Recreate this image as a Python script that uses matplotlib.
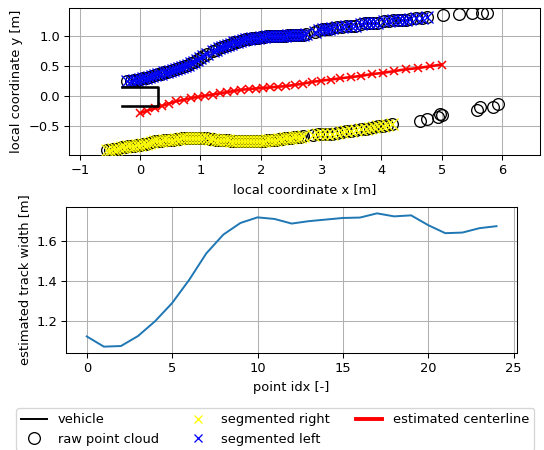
import numpy as np
import matplotlib
matplotlib.use('Agg')
import matplotlib.pyplot as plt
from matplotlib.lines import Line2D

# vehicle outline
veh_x = [-0.30, 0.29, 0.29, -0.30]
veh_y = [0.16, 0.16, -0.16, -0.16]

# segmented left boundary
left_x = [-0.22, -0.15, -0.10, -0.05, 0.00, 0.05, 0.10, 0.15, 0.20, 0.25, 0.30, 0.35,
          0.40, 0.45, 0.50, 0.55, 0.60, 0.65, 0.70, 0.75, 0.80, 0.85, 0.90, 0.95,
          1.00, 1.05, 1.10, 1.20, 1.25, 1.30, 1.35, 1.40, 1.45, 1.50, 1.55, 1.60,
          1.65, 1.70, 1.75, 1.80, 1.85, 1.90, 1.95, 2.00, 2.05, 2.10, 2.15, 2.20,
          2.25, 2.30, 2.35, 2.40, 2.45, 2.50, 2.55, 2.60, 2.65, 2.70, 2.75, 2.90,
          2.97, 3.03, 3.08, 3.13, 3.18, 3.27, 3.35, 3.42, 3.50, 3.57, 3.67, 3.73,
          3.80, 3.86, 3.92, 4.05, 4.12, 4.20, 4.27, 4.34, 4.41, 4.48, 4.57, 4.67,
          4.76]
left_y = [0.25, 0.26, 0.27, 0.28, 0.29, 0.30, 0.31, 0.32, 0.34, 0.35, 0.37, 0.38,
          0.40, 0.41, 0.43, 0.44, 0.46, 0.47, 0.49, 0.51, 0.53, 0.55, 0.58, 0.61,
          0.64, 0.67, 0.70, 0.75, 0.78, 0.80, 0.82, 0.84, 0.86, 0.88, 0.90, 0.91,
          0.93, 0.94, 0.95, 0.96, 0.97, 0.98, 0.98, 0.99, 0.99, 1.00, 1.00, 1.00,
          1.01, 1.01, 1.01, 1.01, 1.02, 1.02, 1.02, 1.02, 1.03, 1.03, 1.04, 1.08,
          1.11, 1.12, 1.13, 1.13, 1.14, 1.15, 1.16, 1.17, 1.18, 1.18, 1.21, 1.22,
          1.22, 1.23, 1.23, 1.25, 1.26, 1.27, 1.27, 1.28, 1.28, 1.29, 1.30, 1.31,
          1.32]

# segmented right boundary
right_x = [-0.55, -0.50, -0.45, -0.40, -0.35, -0.30, -0.25, -0.20, -0.15, -0.10,
           -0.05, 0.00, 0.05, 0.10, 0.15, 0.20, 0.25, 0.30, 0.35, 0.40, 0.45, 0.50,
           0.55, 0.60, 0.65, 0.70, 0.75, 0.80, 0.85, 0.90, 0.95, 1.00, 1.05, 1.10,
           1.15, 1.20, 1.25, 1.30, 1.35, 1.40, 1.45, 1.50, 1.55, 1.60, 1.65, 1.70,
           1.75, 1.80, 1.85, 1.90, 1.95, 2.00, 2.05, 2.10, 2.15, 2.20, 2.25, 2.30,
           2.35, 2.40, 2.45, 2.50, 2.55, 2.60, 2.65, 2.70, 2.87, 2.95, 3.02, 3.10,
           3.18, 3.26, 3.34, 3.42, 3.50, 3.58, 3.66, 3.74, 3.81, 3.88, 3.95, 4.02,
           4.10, 4.17]
right_y = [-0.90, -0.89, -0.88, -0.87, -0.86, -0.85, -0.84, -0.83, -0.82, -0.82,
           -0.81, -0.81, -0.80, -0.79, -0.77, -0.76, -0.75, -0.74, -0.74, -0.73,
           -0.73, -0.72, -0.72, -0.71, -0.71, -0.70, -0.70, -0.70, -0.70, -0.70,
           -0.70, -0.70, -0.70, -0.70, -0.71, -0.71, -0.72, -0.72, -0.73, -0.73,
           -0.73, -0.74, -0.74, -0.74, -0.74, -0.74, -0.74, -0.74, -0.74, -0.74,
           -0.74, -0.74, -0.74, -0.73, -0.73, -0.72, -0.72, -0.71, -0.71, -0.70,
           -0.70, -0.69, -0.68, -0.67, -0.67, -0.66, -0.64, -0.63, -0.63, -0.62,
           -0.62, -0.61, -0.59, -0.58, -0.57, -0.56, -0.55, -0.54, -0.52, -0.51,
           -0.50, -0.49, -0.48, -0.46]

# raw points that were not segmented
extra_x = [5.02, 5.28, 5.50, 5.67, 5.75, 4.64, 4.75, 4.94, 4.98, 5.00, 5.58, 5.64, 5.85, 5.93]
extra_y = [1.36, 1.37, 1.39, 1.39, 1.39, -0.41, -0.38, -0.34, -0.30, -0.31, -0.22, -0.18, -0.18, -0.13]

# estimated centerline
center_x = [0.00, 0.12, 0.24, 0.36, 0.48, 0.60, 0.72, 0.84, 0.96, 1.08, 1.20, 1.32,
            1.44, 1.56, 1.68, 1.80, 1.92, 2.04, 2.16, 2.29, 2.42, 2.56, 2.70, 2.85,
            3.00, 3.16, 3.32, 3.49, 3.66, 3.84, 4.02, 4.21, 4.40, 4.60, 4.80, 5.00]
center_y = [-0.28, -0.24, -0.20, -0.16, -0.12, -0.08, -0.06, -0.03, -0.01, 0.01,
            0.03, 0.05, 0.07, 0.09, 0.11, 0.12, 0.13, 0.14, 0.15, 0.16, 0.17, 0.19,
            0.21, 0.24, 0.26, 0.28, 0.30, 0.32, 0.34, 0.37, 0.39, 0.42, 0.45, 0.47,
            0.50, 0.53]

# track width per centerline point
point_idx = list(range(25))
track_width = [1.122, 1.071, 1.074, 1.124, 1.198, 1.289, 1.405, 1.537, 1.631, 1.689,
               1.717, 1.709, 1.686, 1.698, 1.706, 1.714, 1.716, 1.737, 1.722, 1.727,
               1.678, 1.638, 1.641, 1.663, 1.673]

DPI = 93.75
fig = plt.figure(figsize=(544/DPI, 450/DPI), dpi=DPI)
ax1 = fig.add_axes([69/544, 1-155.3/450, 471/544, 147/450])
ax2 = fig.add_axes([66.3/544, 1-353.3/450, 450.7/544, 146.6/450])

ax1.plot(veh_x, veh_y, color='k', lw=2, zorder=5)
ax1.plot(left_x + right_x + extra_x, left_y + right_y + extra_y, 'o', mfc='none',
         mec='k', ms=9, mew=1.0, zorder=2)
ax1.plot(right_x, right_y, 'x', color='yellow', ms=8.5, mew=1.0, zorder=3)
ax1.plot(left_x, left_y, 'x', color='blue', ms=8.5, mew=1.0, zorder=3)
ax1.plot(center_x, center_y, '-x', color='red', lw=2, ms=5.5, mew=1.2, zorder=4)
ax1.set_xlim(-1.18, 6.63)
ax1.set_ylim(-0.983, 1.467)
ax1.set_yticks([-0.5, 0.0, 0.5, 1.0])
ax1.set_xlabel('local coordinate x [m]')
ax1.set_ylabel('local coordinate y [m]')
ax1.grid(True)

ax2.plot(point_idx, track_width)
ax2.set_xlabel('point idx [-]')
ax2.set_ylabel('estimated track width [m]')
ax2.grid(True)

handles = [
    Line2D([], [], color='k', lw=1.5),
    Line2D([], [], ls='none', marker='o', mfc='none', mec='k', ms=9),
    Line2D([], [], ls='none', marker='x', color='yellow', ms=6),
    Line2D([], [], ls='none', marker='x', color='blue', ms=6),
    Line2D([], [], color='red', lw=3),
]
labels = ['vehicle', 'raw point cloud', 'segmented right', 'segmented left',
          'estimated centerline']
fig.legend(handles, labels, loc='upper left', bbox_to_anchor=(16/544, 1-408/450),
           ncol=3, borderaxespad=0)

fig.savefig('out.png', dpi=DPI)
